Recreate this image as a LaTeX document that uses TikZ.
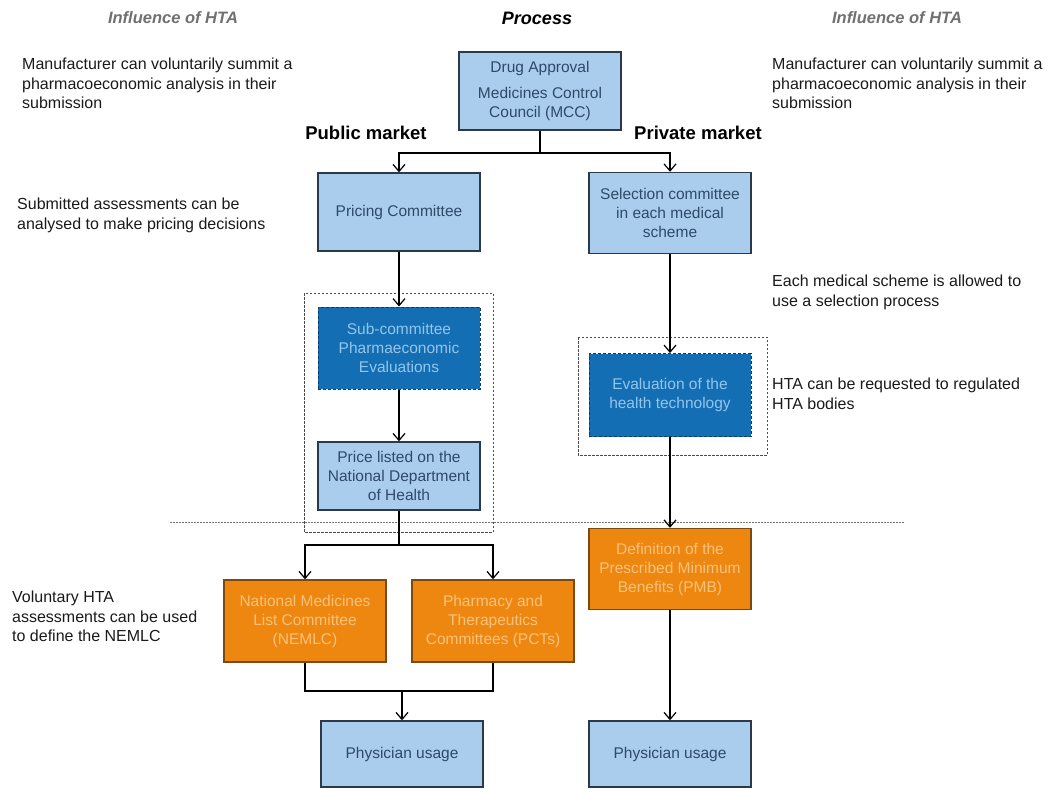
\documentclass[tikz,border=0pt]{standalone}
\usepackage{fontspec}
\setmainfont{Liberation Sans}
\usetikzlibrary{arrows.meta,positioning}
\definecolor{BoxBlue}{HTML}{AACDEE}
\definecolor{BoxText}{HTML}{2E4A68}
\definecolor{BoxEdge}{HTML}{2A3A4C}
\definecolor{DeepBlue}{HTML}{146EB4}
\definecolor{DeepEdge}{HTML}{0B3D66}
\definecolor{DeepText}{HTML}{93C6EC}
\definecolor{Amber}{HTML}{EE870F}
\definecolor{AmberEdge}{HTML}{7A4A10}
\definecolor{AmberText}{HTML}{F8C27C}
\definecolor{HeadGray}{HTML}{707070}
\definecolor{NoteInk}{HTML}{1A1A1A}

\begin{document}
\begin{tikzpicture}[x=1pt,y=-1pt,
 lightbox/.style={draw=BoxEdge,line width=1.4pt,fill=BoxBlue,text=BoxText,minimum width=162pt,minimum height=79pt,align=center,inner sep=2pt,font=\fontsize{15.5}{19}\selectfont},
 darkbox/.style={lightbox,draw=DeepEdge,line width=1pt,dash pattern=on 3pt off 2pt,fill=DeepBlue,text=DeepText},
 amberbox/.style={lightbox,draw=AmberEdge,fill=Amber,text=AmberText},
 arrow/.style={-{Straight Barb[length=7pt,width=12pt]},line width=1.2pt,draw=black},
 link/.style={line width=1.2pt,draw=black},
 container/.style={draw=black!70,line width=0.8pt,dash pattern=on 2.5pt off 1.5pt},
 note/.style={anchor=north west,align=left,inner sep=0pt,text=NoteInk,font=\fontsize{16}{19.5}\selectfont},
 header/.style={font=\fontsize{16.5}{20}\selectfont\bfseries\itshape,text=HeadGray},
 market/.style={font=\fontsize{18.5}{22}\selectfont\bfseries}]
 \useasboundingbox (0,0) rectangle (1052,789);
 % headers
 \node[header] (hleft) at (173,18){Influence of HTA};
 \node[header,text=black,font=\fontsize{18}{22}\selectfont\bfseries\itshape] (hmid) at (537,18){Process};
 \node[header] (hright) at (897,18){Influence of HTA};
 \node[market] (public) at (366,133){Public market};
 \node[market] (private) at (698,133){Private market};
 % side notes
 \node[note] (nmfl) at (22,58){Manufacturer can voluntarily summit a\\pharmacoeconomic analysis in their\\submission};
 \node[note] (nmfr) at (772,58){Manufacturer can voluntarily summit a\\pharmacoeconomic analysis in their\\submission};
 \node[note] (nprice) at (17,198){Submitted assessments can be\\analysed to make pricing decisions};
 \node[note] (nscheme) at (772,275){Each medical scheme is allowed to\\use a selection process};
 \node[note] (nhta) at (772,378){HTA can be requested to regulated\\HTA bodies};
 \node[note] (nnemlc) at (12,591){Voluntary HTA\\assessments can be used\\to define the NEMLC};
 % groups
 \draw[container] (304,293) rectangle (493,532);
 \draw[container] (578,337) rectangle (767,455);
 \draw[black!55,line width=0.8pt,dash pattern=on 1.5pt off 1.5pt] (170,522) -- (905,522);
 % process boxes
 \node[lightbox,minimum height=78pt] (mcc) at (540,91){Drug Approval\\[7pt]Medicines Control\\Council (MCC)};
 \node[lightbox,minimum height=78pt] (pricing) at (399,212){Pricing Committee};
 \node[lightbox,minimum height=81pt] (select) at (670,213){Selection committee\\in each medical\\scheme};
 \node[darkbox,minimum height=82pt] (subcom) at (399,348){Sub-committee\\Pharmaeconomic\\Evaluations};
 \node[lightbox,minimum height=68pt] (listed) at (399,476){Price listed on the\\National Department\\of Health};
 \node[darkbox,minimum height=83pt] (evalht) at (670,395){Evaluation of the\\health technology};
 \node[amberbox,minimum height=81pt] (pmb) at (670,569){Definition of the\\Prescribed Minimum\\Benefits (PMB)};
 \node[amberbox,minimum height=82pt] (nemlc) at (305,621){National Medicines\\List Committee\\(NEMLC)};
 \node[amberbox,minimum height=82pt] (pcts) at (493,621){Pharmacy and\\Therapeutics\\Committees (PCTs)};
 \node[lightbox,minimum height=66pt] (usepub) at (402,754){Physician usage};
 \node[lightbox,minimum height=66pt] (usepriv) at (670,754){Physician usage};
 % connectors
 \coordinate (split) at (540,153);
 \coordinate (fork) at (399,545);
 \coordinate (merge) at (402,691);
 \draw[link](mcc.south)--(split);
 \draw[arrow](split)-|(pricing.north);\draw[arrow](split)-|(select.north);
 \draw[arrow](pricing)--(subcom);\draw[arrow](subcom)--(listed);
 \draw[link](listed.south)--(fork);
 \draw[arrow](fork)-|(nemlc.north);\draw[arrow](fork)-|(pcts.north);
 \draw[link](nemlc.south)|-(merge)-|(pcts.south);
 \draw[arrow](merge)--(usepub.north);
 \draw[arrow](select)--(evalht);\draw[arrow](evalht)--(pmb);\draw[arrow](pmb)--(usepriv);
\end{tikzpicture}
\end{document}
